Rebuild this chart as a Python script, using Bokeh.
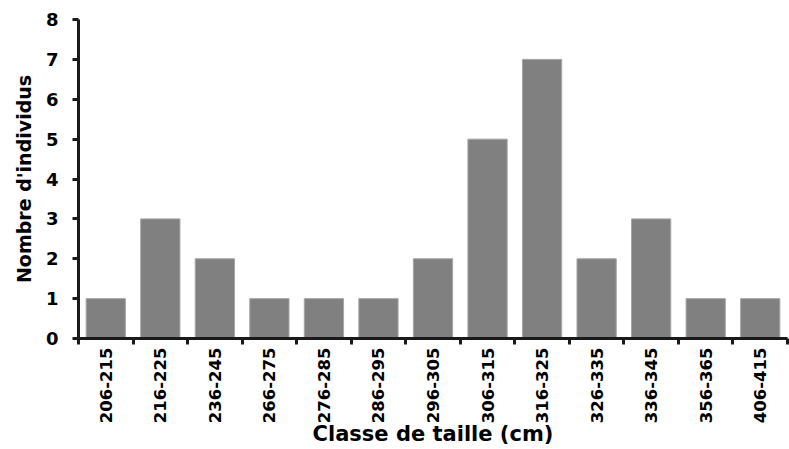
import math
from bokeh.plotting import figure
from bokeh.models import FixedTicker, ColumnDataSource, Range1d
from bokeh.embed import file_html
from bokeh.resources import INLINE

categories = ["206-215", "216-225", "236-245", "266-275", "276-285", "286-295",
              "296-305", "306-315", "316-325", "326-335", "336-345", "356-365", "406-415"]
counts = [1, 3, 2, 1, 1, 1, 2, 5, 7, 2, 3, 1, 1]
y_ticks = [0, 1, 2, 3, 4, 5, 6, 7, 8]

FONT = "DejaVu Sans"

n = len(categories)
centers = [i + 0.5 for i in range(n)]
src = ColumnDataSource(dict(x=centers, top=counts, cat=categories))

p = figure(width=789, height=449, output_backend="svg", toolbar_location=None,
           x_range=Range1d(0, n), y_range=Range1d(0, 8),
           min_border_left=78, min_border_right=2, min_border_top=19, min_border_bottom=110)
p.outline_line_color = None
p.xgrid.grid_line_color = None
p.ygrid.grid_line_color = None

p.vbar(x="x", top="top", width=0.72, bottom=0, source=src,
       fill_color="#808080", line_color="#a6a6a6", line_width=1)

xa = p.xaxis[0]
xa.ticker = FixedTicker(ticks=centers, minor_ticks=list(range(n + 1)))
xa.major_label_overrides = {c: lab for c, lab in zip(centers, categories)}
xa.major_label_orientation = math.pi / 2
xa.major_tick_out = 0
xa.major_tick_in = 0
xa.minor_tick_out = 6
xa.minor_tick_in = 0
xa.minor_tick_line_width = 3
xa.minor_tick_line_color = "#1a1a1a"
xa.axis_line_width = 3
xa.axis_line_color = "#1a1a1a"
xa.major_label_text_font = FONT
xa.major_label_text_font_style = "bold"
xa.major_label_text_font_size = "16.5px"
xa.major_label_text_color = "black"
xa.major_label_standoff = 3
xa.axis_label = "Classe de taille (cm)"
xa.axis_label_text_font = FONT
xa.axis_label_text_font_style = "bold"
xa.axis_label_text_font_size = "21px"
xa.axis_label_text_color = "black"
xa.axis_label_standoff = -4

ya = p.yaxis[0]
ya.ticker = FixedTicker(ticks=y_ticks, minor_ticks=[])
ya.major_tick_out = 6
ya.major_tick_in = 0
ya.major_tick_line_width = 3
ya.major_tick_line_color = "#1a1a1a"
ya.minor_tick_out = 0
ya.minor_tick_in = 0
ya.axis_line_width = 3
ya.axis_line_color = "#1a1a1a"
ya.major_label_text_font = FONT
ya.major_label_text_font_style = "bold"
ya.major_label_text_font_size = "18px"
ya.major_label_text_color = "black"
ya.major_label_standoff = 14
ya.axis_label = "Nombre d'individus"
ya.axis_label_text_font = FONT
ya.axis_label_text_font_style = "bold"
ya.axis_label_text_font_size = "19px"
ya.axis_label_text_color = "black"
ya.axis_label_standoff = 8

open("out.html", "w").write(file_html(p, INLINE))
